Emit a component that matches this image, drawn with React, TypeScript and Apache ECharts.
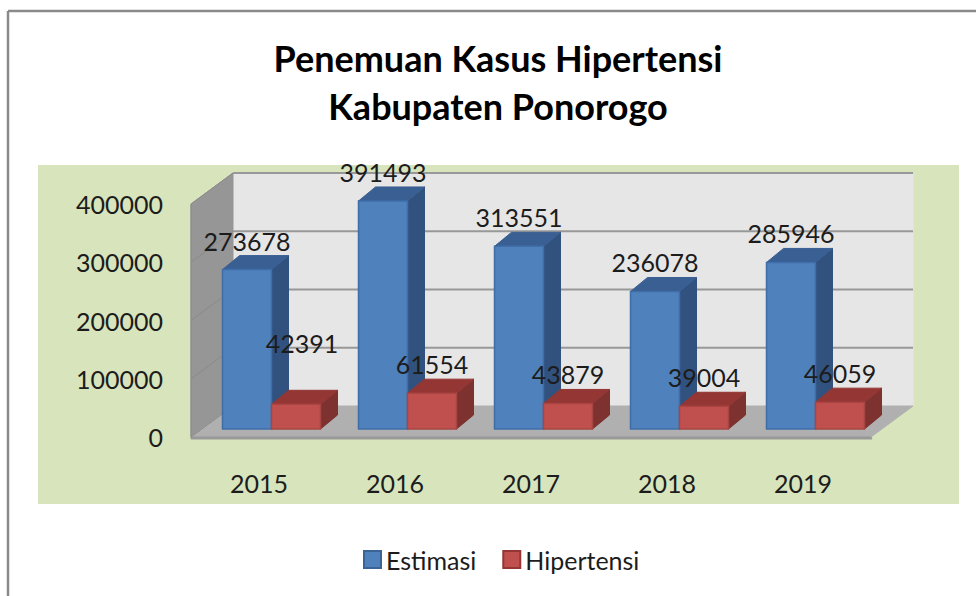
import React, { useEffect, useRef } from "react";
import * as echarts from "echarts";

const years = ["2015", "2016", "2017", "2018", "2019"];
const estimasi = [273678, 391493, 313551, 236078, 285946];
const hipertensi = [42391, 61554, 43879, 39004, 46059];
const yTicks = [0, 100000, 200000, 300000, 400000];
const titleLines = ["Penemuan Kasus Hipertensi", "Kabupaten Ponorogo"];

const FONT = "Lato";
const TEXT = "#1c1c1c";
const WALL_DX = 42, WALL_DY = -31;
const BAR_W = 49, BAR_DX = 17, BAR_DY = -14;
const FLOOR_DX = 12.5, FLOOR_DY = -8;

const poly = (points: number[][], fill: string, stroke?: string, lineWidth = 1) => ({
  type: "polygon",
  shape: { points },
  style: { fill, stroke: stroke ?? fill, lineWidth },
  silent: true,
});

function renderWalls(params: any, api: any) {
  const cs = params.coordSys;
  const L = cs.x, R = cs.x + cs.width, T = cs.y, B = cs.y + cs.height;
  const dx = WALL_DX, dy = WALL_DY;
  const children: any[] = [
    poly([[L + dx, T + dy], [R + dx, T + dy], [R + dx, B + dy], [L + dx, B + dy]], "#e6e6e6"),
    poly([[L, T], [L + dx, T + dy], [L + dx, B + dy], [L, B]], "#969696"),
    poly([[L, B], [L + dx, B + dy], [R + dx, B + dy], [R, B]], "#b0b0b0"),
    poly([[L, B], [R, B], [R + 1, B + 2], [L, B + 2]], "#999999"),
  ];
  yTicks.forEach((t) => {
    const y = api.coord([0, t])[1];
    children.push({
      type: "polyline",
      shape: { points: [[L, y], [L + dx, y + dy]] },
      style: { stroke: "#8a8a8a", lineWidth: 1, fill: "none" },
      silent: true,
    });
    if (t > 0) {
      children.push({
        type: "line",
        shape: { x1: L + dx, y1: y + dy, x2: R + dx, y2: y + dy },
        style: { stroke: "#989898", lineWidth: 2 },
        silent: true,
      });
    }
  });
  children.push({
    type: "line",
    shape: { x1: L, y1: T, x2: L, y2: B },
    style: { stroke: "#8a8a8a", lineWidth: 1 },
    silent: true,
  });
  return { type: "group", children };
}

const makeBar = (
  side: number,
  front: string,
  top: string,
  right: string,
  border: string,
  nudge: Record<number, number[]>
) => (params: any, api: any) => {
  const i = api.value(0);
  const v = api.value(1);
  const p = api.coord([i, v]);
  const b = api.coord([i, 0]);
  const x0 = p[0] + FLOOR_DX + (side === 0 ? -BAR_W : 0);
  const x1 = x0 + BAR_W;
  const yT = p[1] + FLOOR_DY;
  const yB = b[1] + FLOOR_DY;
  const n = nudge[i] ?? [0, 0];
  return {
    type: "group",
    children: [
      poly([[x1, yT], [x1 + BAR_DX, yT + BAR_DY], [x1 + BAR_DX, yB + BAR_DY], [x1, yB]], right),
      poly([[x0, yT], [x0 + BAR_DX, yT + BAR_DY], [x1 + BAR_DX, yT + BAR_DY], [x1, yT]], top),
      poly([[x0, yT], [x1, yT], [x1, yB], [x0, yB]], front, border, 1.5),
      {
        type: "text",
        z2: 50,
        silent: true,
        style: {
          x: (x0 + x1) / 2 + n[0],
          y: yT - 29 + n[1],
          text: String(v),
          align: "center",
          verticalAlign: "middle",
          fill: TEXT,
          font: `25px ${FONT}`,
        },
      },
    ],
  };
};

export default function App() {
  const ref = useRef<HTMLDivElement>(null);
  useEffect(() => {
    const chart = echarts.init(ref.current!, undefined, { renderer: "svg" });
    chart.setOption({
      animation: false,
      backgroundColor: "#ffffff",
      title: {
        text: titleLines.join("\n"),
        left: 493,
        top: 29,
        textAlign: "center",
        textStyle: { fontFamily: FONT, fontWeight: "bold", fontSize: 36, lineHeight: 48, color: "#000000" },
      },
      graphic: [
        { type: "rect", shape: { x: 38, y: 165, width: 921, height: 339 }, style: { fill: "#d7e4bc" }, silent: true },
        { type: "line", shape: { x1: 8, y1: 11, x2: 976, y2: 11 }, style: { stroke: "#8a8a8a", lineWidth: 2.5 }, silent: true },
        { type: "line", shape: { x1: 8, y1: 11, x2: 8, y2: 596 }, style: { stroke: "#8a8a8a", lineWidth: 2.5 }, silent: true },
      ],
      grid: { left: 191, right: 105, top: 204, height: 233 },
      xAxis: {
        type: "category",
        data: years,
        axisLine: { show: false },
        axisTick: { show: false },
        axisLabel: { fontFamily: FONT, fontSize: 25, color: TEXT, margin: 33 },
      },
      yAxis: {
        type: "value",
        min: 0,
        max: 400000,
        interval: 100000,
        axisLine: { show: false },
        axisTick: { show: false },
        splitLine: { show: false },
        axisLabel: { fontFamily: FONT, fontSize: 25, color: TEXT, margin: 28, formatter: (v: number) => String(v) },
      },
      legend: {
        left: 358,
        top: 542,
        icon: "rect",
        itemWidth: 17,
        itemHeight: 17,
        itemGap: 26,
        data: ["Estimasi", "Hipertensi"],
        textStyle: { fontFamily: FONT, fontSize: 25, color: TEXT, padding: [0, 0, 0, 0] },
      },
      series: [
        {
          type: "custom",
          name: "walls",
          data: [[0, 0]],
          clip: false,
          silent: true,
          renderItem: renderWalls,
          encode: { x: 0, y: 1 },
        },
        {
          type: "custom",
          name: "Estimasi",
          data: estimasi.map((v, i) => [i, v]),
          clip: false,
          itemStyle: { color: "#4f81bd", borderColor: "#3a6396", borderWidth: 1.5 },
          renderItem: makeBar(0, "#4f81bd", "#3a5f92", "#31527f", "#3f6ea8", {}),
          encode: { x: 0, y: 1 },
        },
        {
          type: "custom",
          name: "Hipertensi",
          data: hipertensi.map((v, i) => [i, v]),
          clip: false,
          itemStyle: { color: "#c0504d", borderColor: "#943634", borderWidth: 1.5 },
          renderItem: makeBar(1, "#c0504d", "#943634", "#7d322f", "#a84542", { 0: [6, -32] }),
          encode: { x: 0, y: 1 },
        },
      ],
    });
    return () => chart.dispose();
  }, []);
  return <div ref={ref} style={{ position: "absolute", left: 0, top: 0, width: 976, height: 596 }} />;
}
